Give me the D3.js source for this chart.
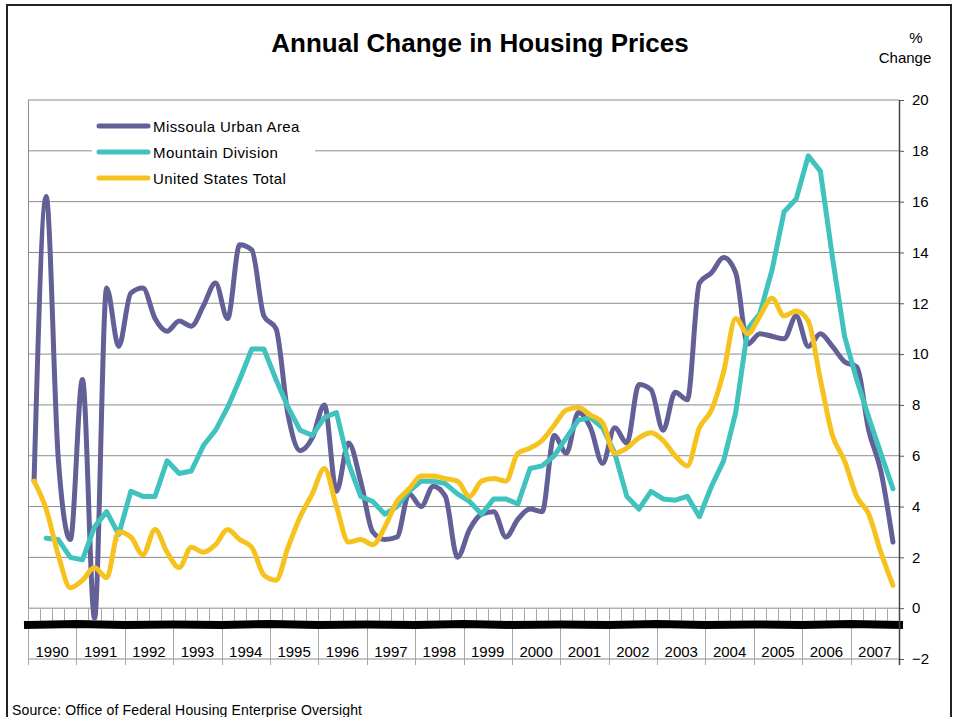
<!DOCTYPE html>
<html>
<head>
<meta charset="utf-8">
<script src="https://cdn.jsdelivr.net/npm/d3@7"></script>
<style>
  body { margin: 0; background: #fff; }
  svg text { font-family: "Liberation Sans", Arial, sans-serif; fill: #000; }
</style>
</head>
<body>
<svg id="chart" width="956" height="717"></svg>
<script>
// data, one value per quarter, 1990 Q1 .. 2007 Q4
var years = [1990, 1991, 1992, 1993, 1994, 1995, 1996, 1997, 1998,
             1999, 2000, 2001, 2002, 2003, 2004, 2005, 2006, 2007];

var missoula = [
  5.0, 16.2, 5.9, 2.7,
  9.0, -0.4, 12.6, 10.3,
  12.4, 12.6, 11.4, 10.9,
  11.3, 11.1, 11.9, 12.8,
  11.4, 14.3, 14.1, 11.5,
  11.0, 7.6, 6.2, 6.7,
  8.0, 4.6, 6.5, 5.0,
  3.0, 2.7, 2.8, 4.5,
  4.0, 4.8, 4.4, 2.0,
  3.1, 3.7, 3.8, 2.8,
  3.5, 3.9, 3.8, 6.8,
  6.1, 7.7, 7.1, 5.7,
  7.1, 6.5, 8.8, 8.6,
  7.0, 8.5, 8.2, 12.8,
  13.2, 13.8, 13.2, 10.4,
  10.8, 10.7, 10.6, 11.5,
  10.3, 10.8, 10.3, 9.7,
  9.5, 7.0, 5.4, 2.6
];

var mountain = [
  null, 2.75, 2.7, 2.0,
  1.9, 3.2, 3.8, 2.9,
  4.6, 4.4, 4.4, 5.8,
  5.3, 5.4, 6.4, 7.0,
  7.9, 9.0, 10.2, 10.2,
  9.0, 7.9, 7.0, 6.8,
  7.5, 7.7, 5.7, 4.4,
  4.2, 3.7, 4.0, 4.6,
  5.0, 5.0, 4.9, 4.5,
  4.2, 3.7, 4.3, 4.3,
  4.1, 5.5, 5.6, 6.0,
  6.7, 7.4, 7.5, 7.1,
  6.1, 4.4, 3.9, 4.6,
  4.3, 4.25, 4.4, 3.6,
  4.8, 5.8, 7.7, 11.0,
  11.6, 13.3, 15.6, 16.1,
  17.8, 17.2, 13.8, 10.7,
  9.0, 7.5, 6.1, 4.7
];

var usTotal = [
  5.0, 3.9, 2.1, 0.8,
  1.1, 1.6, 1.2, 3.0,
  2.8, 2.1, 3.1, 2.2,
  1.6, 2.4, 2.2, 2.5,
  3.1, 2.7, 2.4, 1.3,
  1.1, 2.4, 3.6, 4.5,
  5.5, 4.0, 2.6, 2.7,
  2.5, 3.2, 4.2, 4.7,
  5.2, 5.2, 5.1, 5.0,
  4.4, 5.0, 5.1, 5.0,
  6.1, 6.3, 6.6, 7.2,
  7.8, 7.9, 7.6, 7.3,
  6.1, 6.3, 6.7, 6.9,
  6.6, 6.0, 5.6, 7.1,
  7.8, 9.3, 11.4, 10.8,
  11.5, 12.2, 11.5, 11.7,
  11.3, 9.0, 6.8, 5.8,
  4.4, 3.7, 2.2, 0.9
];

// the heavy black band just under zero, one value per year boundary
var band = [-0.66, -0.62, -0.66, -0.64, -0.66, -0.62, -0.66, -0.64, -0.66, -0.62,
            -0.66, -0.64, -0.66, -0.62, -0.66, -0.64, -0.66, -0.62, -0.66];

var yTicks = [-2, 0, 2, 4, 6, 8, 10, 12, 14, 16, 18, 20];

var seriesNames = ["Missoula Urban Area", "Mountain Division", "United States Total"];
var seriesColors = ["#626096", "#40c2bf", "#f6c31e"];

var svg = d3.select("#chart");

var x = d3.scaleLinear().domain([1990, 2008]).range([28, 899]);
var y = d3.scaleLinear().domain([-2, 20]).range([659, 100]);

// outer frame
svg.append("rect")
  .attr("x", 7).attr("y", 5)
  .attr("width", 944).attr("height", 730)
  .attr("fill", "none")
  .attr("stroke", "#222")
  .attr("stroke-width", 2);

// horizontal grid
svg.append("g").selectAll("line")
  .data(yTicks)
  .enter().append("line")
  .attr("x1", 28).attr("x2", 899)
  .attr("y1", function(d) { return y(d); })
  .attr("y2", function(d) { return y(d); })
  .attr("stroke", "#8c8c8c")
  .attr("stroke-width", 1);

// left edge of plot
svg.append("line")
  .attr("x1", 28.5).attr("x2", 28.5)
  .attr("y1", y(20)).attr("y2", y(0))
  .attr("stroke", "#8c8c8c");

// quarter ticks and year dividers below zero
var quarterMarks = [];
years.forEach(function(yr) { for (var q = 1; q < 4; q++) quarterMarks.push(yr + q / 4); });

svg.append("g").selectAll("line")
  .data(quarterMarks)
  .enter().append("line")
  .attr("x1", function(d) { return Math.round(x(d)) + 0.5; })
  .attr("x2", function(d) { return Math.round(x(d)) + 0.5; })
  .attr("y1", y(0)).attr("y2", y(0) + 16)
  .attr("stroke", "#a8a8a8");

svg.append("g").selectAll("line")
  .data(years.concat([2008]))
  .enter().append("line")
  .attr("x1", function(d) { return Math.round(x(d)) + 0.5; })
  .attr("x2", function(d) { return Math.round(x(d)) + 0.5; })
  .attr("y1", y(0)).attr("y2", y(-2) + 6)
  .attr("stroke", "#a8a8a8");

// black band
var bandLine = d3.line()
  .x(function(d, i) { return x(1990 + i); })
  .y(function(d) { return y(d); });

svg.append("path")
  .datum(band)
  .attr("d", bandLine)
  .attr("fill", "none")
  .attr("stroke", "#000")
  .attr("stroke-width", 8)
  .attr("stroke-linecap", "square");

// year labels
svg.append("g").selectAll("text")
  .data(years)
  .enter().append("text")
  .attr("x", function(d) { return x(d + 0.5); })
  .attr("y", 657)
  .attr("text-anchor", "middle")
  .attr("font-size", 15)
  .text(function(d) { return d; });

// right axis
var axis = svg.append("g")
  .attr("transform", "translate(899,0)")
  .call(d3.axisRight(y).tickValues(yTicks).tickSize(5).tickPadding(8));
axis.select(".domain").remove();
axis.selectAll(".tick line").attr("stroke", "#555");
axis.selectAll(".tick text")
  .attr("font-size", 15)
  .style("font-family", "'Liberation Sans', Arial, sans-serif");
svg.append("line")
  .attr("x1", 899.5).attr("x2", 899.5)
  .attr("y1", 100).attr("y2", 665)
  .attr("stroke", "#444")
  .attr("stroke-width", 1.5);

// series lines
var allSeries = [missoula, mountain, usTotal];
var curves = [d3.curveMonotoneX, d3.curveLinear, d3.curveMonotoneX];

allSeries.forEach(function(vals, s) {
  var line = d3.line()
    .defined(function(d) { return d !== null; })
    .curve(curves[s])
    .x(function(d, i) { return x(1990 + (i + 0.5) / 4); })
    .y(function(d) { return y(d); });
  svg.append("path")
    .datum(vals)
    .attr("d", line)
    .attr("fill", "none")
    .attr("stroke", seriesColors[s])
    .attr("stroke-width", 5)
    .attr("stroke-linejoin", "round")
    .attr("stroke-linecap", "round");
});

// legend
var legend = svg.append("g");
legend.append("rect")
  .attr("x", 92).attr("y", 112)
  .attr("width", 223).attr("height", 78)
  .attr("fill", "#fff");

var legendItem = legend.selectAll(".legend")
  .data(seriesNames)
  .enter().append("g")
  .attr("transform", function(d, i) { return "translate(0," + (126 + i * 26) + ")"; });

legendItem.append("line")
  .attr("x1", 99).attr("x2", 148)
  .attr("y1", 0).attr("y2", 0)
  .attr("stroke", function(d, i) { return seriesColors[i]; })
  .attr("stroke-width", 5)
  .attr("stroke-linecap", "round");

legendItem.append("text")
  .attr("x", 153)
  .attr("y", 6)
  .attr("font-size", 15)
  .attr("letter-spacing", 0.4)
  .text(function(d) { return d; });

// titles
svg.append("text")
  .attr("x", 480).attr("y", 52)
  .attr("text-anchor", "middle")
  .attr("font-size", 26)
  .attr("font-weight", "bold")
  .text("Annual Change in Housing Prices");

svg.append("text")
  .attr("x", 916).attr("y", 43)
  .attr("text-anchor", "middle")
  .attr("font-size", 15)
  .text("%");

svg.append("text")
  .attr("x", 905).attr("y", 63)
  .attr("text-anchor", "middle")
  .attr("font-size", 15)
  .text("Change");

svg.append("text")
  .attr("x", 12).attr("y", 715)
  .attr("font-size", 14)
  .attr("textLength", 350)
  .attr("lengthAdjust", "spacing")
  .text("Source: Office of Federal Housing Enterprise Oversight");
</script>
</body>
</html>
